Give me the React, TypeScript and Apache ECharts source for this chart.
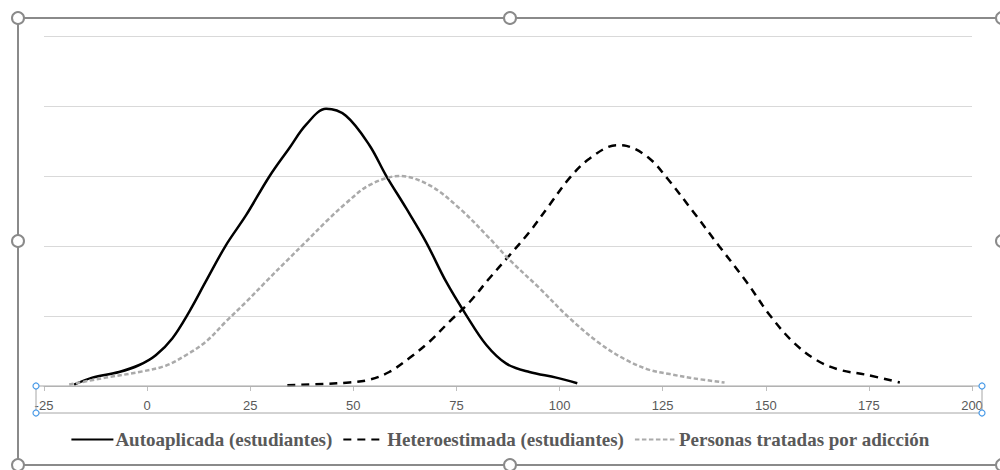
import React, { useEffect, useRef } from "react";
import * as echarts from "echarts";

const xTicks = [-25, 0, 25, 50, 75, 100, 125, 150, 175, 200];

const autoaplicada: [number, number][] = [
  [-17.7, 0.02], [-13.3, 0.12], [-6.8, 0.2], [-1.9, 0.3], [2.1, 0.44], [6.1, 0.68],
  [10.2, 1.06], [14.2, 1.49], [19.1, 2.01], [24, 2.44], [29.6, 2.99], [34.5, 3.4],
  [38.5, 3.73], [43.4, 3.96], [48.2, 3.86], [53.9, 3.44], [57.9, 3.01], [62.8, 2.54],
  [67.6, 2.06], [72.5, 1.49], [77.4, 1.01], [82.2, 0.59], [87.1, 0.32], [92.7, 0.2],
  [99.2, 0.12], [104.3, 0.04],
];

const heteroestimada: [number, number][] = [
  [34, 0.01], [43, 0.03], [49, 0.05], [53.9, 0.09], [58.7, 0.2], [63.6, 0.4],
  [68.4, 0.63], [73.3, 0.92], [78.2, 1.2], [83, 1.54], [87.9, 1.87], [92.7, 2.2],
  [97.6, 2.59], [102.4, 2.97], [107.3, 3.25], [113.8, 3.44], [116.2, 3.43], [121.8, 3.25],
  [126.2, 2.96], [132.4, 2.49], [138.8, 1.99], [145.3, 1.49], [151, 1.01], [156.6, 0.63],
  [162.3, 0.37], [168, 0.23], [174.4, 0.16], [182.5, 0.05],
];

const personas: [number, number][] = [
  [-18.9, 0.02], [-10, 0.12], [-1.9, 0.2], [4.5, 0.29], [9.4, 0.44], [14.2, 0.63],
  [19.1, 0.92], [24, 1.2], [28.8, 1.49], [33.7, 1.78], [38.5, 2.06], [43.4, 2.35],
  [48.2, 2.61], [53.9, 2.87], [61.2, 3.0], [68.4, 2.87], [75.7, 2.54], [83, 2.11],
  [87.9, 1.8], [95.1, 1.4], [102.4, 0.97], [109.7, 0.61], [116.2, 0.37], [121.8, 0.23],
  [126.7, 0.17], [132.4, 0.11], [140, 0.05],
];

const seriesNames = [
  "Autoaplicada (estudiantes)",
  "Heteroestimada (estudiantes)",
  "Personas tratadas por adicción",
];

export default function App() {
  const ref = useRef<HTMLDivElement>(null);
  useEffect(() => {
    if (!ref.current) return;
    const chart = echarts.init(ref.current, null, { renderer: "svg" });
    const handle = (x: number, y: number) => ({
      type: "circle",
      shape: { cx: x, cy: y, r: 6 },
      style: { fill: "#fff", stroke: "#8a8a8a", lineWidth: 2 },
      z: 100,
    });
    const blue = (x: number, y: number) => ({
      type: "circle",
      shape: { cx: x, cy: y, r: 3 },
      style: { fill: "#fff", stroke: "#4a9be8", lineWidth: 1.2 },
      z: 100,
    });
    chart.setOption({
      animation: false,
      backgroundColor: "#fff",
      grid: { left: 44, right: 28, top: 36, bottom: 84 },
      xAxis: {
        type: "value",
        min: -25,
        max: 200,
        interval: 25,
        axisLine: { show: true, lineStyle: { color: "#bfbfbf", width: 1 } },
        axisTick: { show: true, length: 5, lineStyle: { color: "#bfbfbf" } },
        splitLine: { show: false },
        axisLabel: {
          color: "#595959",
          fontSize: 13,
          fontFamily: "Liberation Sans, Arial, sans-serif",
          margin: 13,
          formatter: (v: number) => (xTicks.includes(v) ? String(v) : ""),
        },
      },
      yAxis: {
        type: "value",
        min: 0,
        max: 5,
        interval: 1,
        axisLine: { show: false },
        axisTick: { show: false },
        axisLabel: { show: false },
        splitLine: { show: true, lineStyle: { color: "#d9d9d9", width: 1 } },
      },
      legend: {
        top: 425,
        left: "center",
        itemWidth: 42,
        itemHeight: 14,
        itemGap: 10,
        itemStyle: { opacity: 0 },
        textStyle: {
          color: "#595959",
          fontSize: 19,
          fontWeight: "bold",
          fontFamily: "Liberation Serif, Times New Roman, serif",
          padding: [0, 0, 0, -3],
        },
        data: seriesNames,
      },
      series: [
        {
          name: seriesNames[0],
          type: "line",
          smooth: 0.35,
          showSymbol: false,
          symbol: "none",
          data: autoaplicada,
          lineStyle: { color: "#000", width: 2.5, type: "solid" },
          itemStyle: { color: "#000" },
        },
        {
          name: seriesNames[1],
          type: "line",
          smooth: 0.35,
          showSymbol: false,
          symbol: "none",
          data: heteroestimada,
          lineStyle: { color: "#000", width: 2.5, type: [8, 6] },
          itemStyle: { color: "#000" },
        },
        {
          name: seriesNames[2],
          type: "line",
          smooth: 0.35,
          showSymbol: false,
          symbol: "none",
          data: personas,
          lineStyle: { color: "#aaaaaa", width: 2.5, type: [4.5, 2.5] },
          itemStyle: { color: "#aaaaaa" },
        },
      ],
      graphic: [
        {
          type: "rect",
          shape: { x: 18, y: 18, width: 990, height: 447 },
          style: { fill: "none", stroke: "#8a8a8a", lineWidth: 2 },
          z: 90,
        },
        {
          type: "rect",
          shape: { x: 36, y: 386, width: 946, height: 27 },
          style: { fill: "none", stroke: "#a6a6a6", lineWidth: 1 },
          z: 90,
        },
        blue(36, 386), blue(36, 413), blue(982, 386), blue(982, 413),
        handle(18, 18), handle(510, 18), handle(1002, 18),
        handle(18, 241), handle(1002, 241),
        handle(18, 465), handle(510, 465), handle(1002, 465),
      ],
    });
    return () => chart.dispose();
  }, []);
  return (
    <div
      ref={ref}
      style={{ position: "fixed", left: 0, top: 0, width: 1000, height: 470 }}
    />
  );
}
